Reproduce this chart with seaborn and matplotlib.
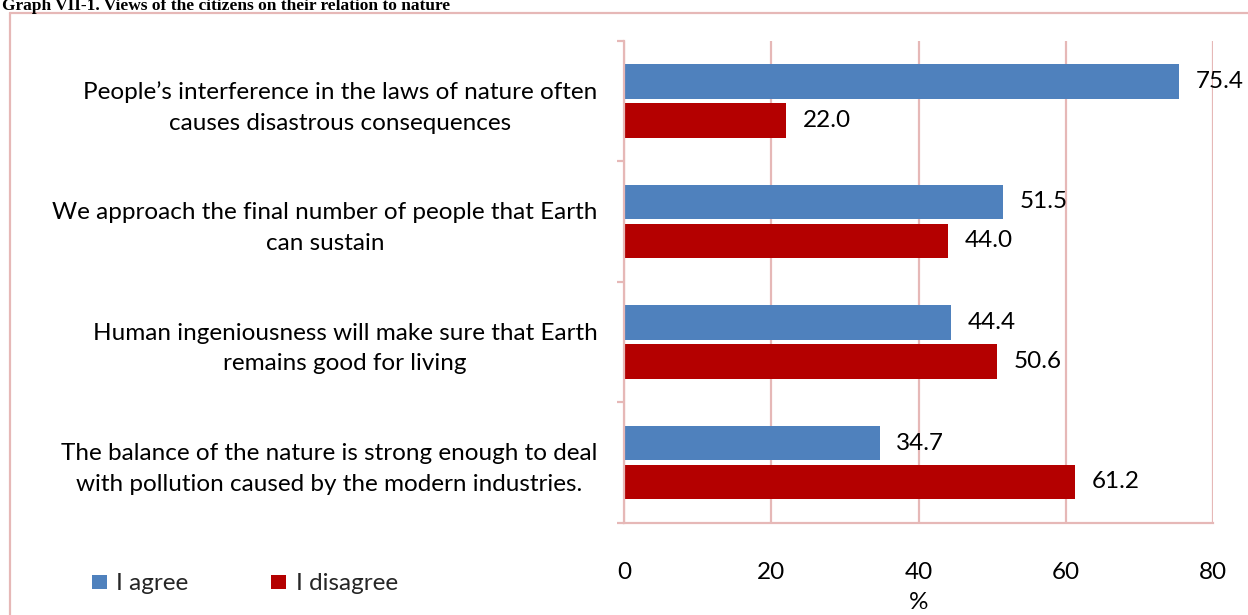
import matplotlib
matplotlib.use("Agg")
import matplotlib.pyplot as plt
from matplotlib.lines import Line2D
from matplotlib.patches import Patch
import pandas as pd
import seaborn as sns

# --- data -------------------------------------------------------------
statements = [
    "People\u2019s interference in the laws of nature often\ncauses disastrous consequences",
    "We approach the final number of people that Earth\ncan sustain",
    "Human ingeniousness will make sure that Earth\nremains good for living",
    "The balance of the nature is strong enough to deal\nwith pollution caused by the modern industries.",
]
agree = [75.4, 51.5, 44.4, 34.7]
disagree = [22.0, 44.0, 50.6, 61.2]
series = ["I agree", "I disagree"]
x_ticks = [0, 20, 40, 60, 80]
title = "Graph VII-1. Views of the citizens on their relation to nature"

colors = ["#4F81BD", "#B40000"]
pink = "#E6B8B7"

df = pd.DataFrame({
    "statement": statements * 2,
    "share": agree + disagree,
    "answer": [series[0]] * len(agree) + [series[1]] * len(disagree),
})

# --- style ------------------------------------------------------------
sns.set_theme(style="white")
plt.rcParams["font.family"] = ["Lato", "DejaVu Sans"]
fs = 17.5

fig = plt.figure(figsize=(12.48, 6.15), dpi=100)
ax = fig.add_axes([0.5, 0.150, 0.472, 0.784])

sns.barplot(
    data=df, y="statement", x="share", hue="answer",
    order=statements, hue_order=series, palette=colors,
    orient="h", width=0.646, gap=0.115, saturation=1,
    errorbar=None, legend=False, linewidth=0, ax=ax,
)

for container in ax.containers:
    ax.bar_label(container, fmt="%.1f", padding=12, fontsize=fs, color="black")

# --- axes -------------------------------------------------------------
ax.set_xlim(0, 80)
ax.set_ylim(len(statements) - 0.5, -0.5)
ax.set_xticks(x_ticks)
ax.set_xticklabels([str(t) for t in x_ticks])
ax.set_yticks(range(len(statements)))
ax.set_yticklabels(statements)
ax.set_yticks([i - 0.5 for i in range(len(statements) + 1)], minor=True)

ax.grid(axis="x", color=pink, linewidth=1.6)
ax.grid(axis="y", visible=False)
ax.set_axisbelow(True)

for side in ["top", "right"]:
    ax.spines[side].set_visible(False)
for side in ["left", "bottom"]:
    ax.spines[side].set_color(pink)
    ax.spines[side].set_linewidth(1.6)

ax.tick_params(axis="x", which="major", length=5, width=1.6, color=pink,
               direction="out", pad=23, labelsize=fs, labelcolor="black")
ax.tick_params(axis="y", which="major", length=0, pad=19,
               labelsize=fs, labelcolor="black")
ax.tick_params(axis="y", which="minor", length=5, width=1.6, color=pink,
               direction="out", left=True)

for lbl in ax.get_yticklabels():
    lbl.set_multialignment("center")
    lbl.set_linespacing(1.55)

ax.set_ylabel("")
ax.set_xlabel("%", fontsize=fs, color="black")
ax.xaxis.label.set_va("center")
ax.xaxis.set_label_coords(0.5, -0.165)

# --- legend -----------------------------------------------------------
handles = [Patch(facecolor=c, edgecolor="none", label=s) for c, s in zip(colors, series)]
fig.legend(
    handles=handles, loc="center left", bbox_to_anchor=(92 / 1248, 1 - 584 / 615),
    ncol=2, frameon=False, fontsize=fs, handlelength=0.6, handleheight=0.5,
    handletextpad=0.4, columnspacing=3.4, borderpad=0, borderaxespad=0,
)

# --- title and frame --------------------------------------------------
fig.text(2 / 1248, 1 - 10 / 615, title, fontfamily="Liberation Serif",
         fontweight="bold", fontsize=12.5, va="baseline", ha="left", color="black")

fig.add_artist(Line2D([10 / 1248, 10 / 1248], [0, 1 - 13 / 615],
                      transform=fig.transFigure, color=pink, linewidth=1.6))
fig.add_artist(Line2D([10 / 1248, 1], [1 - 13 / 615, 1 - 13 / 615],
                      transform=fig.transFigure, color=pink, linewidth=1.6))

fig.savefig("out.png", dpi=100)
